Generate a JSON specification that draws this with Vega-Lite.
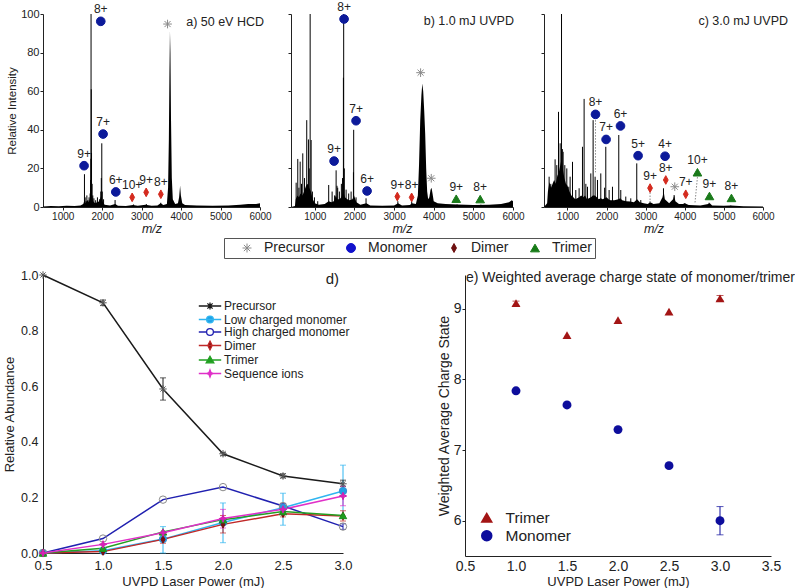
{
"$schema": "https://vega.github.io/schema/vega-lite/v6.json",
"padding": {"left": 3, "top": 1, "right": 0, "bottom": 0},
"background": "white",
"config": {
 "font": "Liberation Sans",
 "view": {"stroke": null},
 "axis": {"grid": false, "domainColor": "#222", "tickColor": "#222", "labelColor": "#222", "titleColor": "#222", "titleFontWeight": "normal", "labelFlush": false, "labelOverlap": false},
 "legend": {"labelColor": "#222"},
 "title": {"fontWeight": "normal", "color": "#222", "frame": "group"}
},
"datasets": {
 "envA": [{"mz":500,"i":0.3},{"mz":700,"i":0.5},{"mz":900,"i":0.4},{"mz":1100,"i":0.6},{"mz":1300,"i":0.5},{"mz":1450,"i":0.8},{"mz":1520,"i":1.5},{"mz":1545,"i":3},{"mz":1580,"i":2},{"mz":1620,"i":3.5},{"mz":1660,"i":2.5},{"mz":1700,"i":5},{"mz":1740,"i":6},{"mz":1770,"i":3},{"mz":1820,"i":2},{"mz":1870,"i":2.5},{"mz":1930,"i":3},{"mz":1975,"i":6},{"mz":2010,"i":3},{"mz":2060,"i":1.2},{"mz":2200,"i":0.8},{"mz":2330,"i":1.5},{"mz":2400,"i":0.6},{"mz":2600,"i":0.5},{"mz":2780,"i":1},{"mz":2900,"i":0.6},{"mz":3100,"i":1.2},{"mz":3250,"i":0.6},{"mz":3400,"i":0.8},{"mz":3480,"i":2},{"mz":3550,"i":1},{"mz":3640,"i":1.5},{"mz":3670,"i":10},{"mz":3690,"i":35},{"mz":3705,"i":70},{"mz":3718,"i":91},{"mz":3730,"i":80},{"mz":3745,"i":45},{"mz":3765,"i":15},{"mz":3790,"i":4},{"mz":3850,"i":1.5},{"mz":3920,"i":2},{"mz":3950,"i":5},{"mz":3975,"i":11},{"mz":3995,"i":6},{"mz":4030,"i":2},{"mz":4100,"i":1},{"mz":4400,"i":0.8},{"mz":4800,"i":0.7},{"mz":5200,"i":0.8},{"mz":5500,"i":1.2},{"mz":5700,"i":1.6},{"mz":5900,"i":1.5},{"mz":6000,"i":2}],
 "pkA": [{"mz":1551,"i":17},{"mz":1568,"i":5},{"mz":1590,"i":3},{"mz":1612,"i":6},{"mz":1640,"i":3.5},{"mz":1668,"i":5},{"mz":1695,"i":7},{"mz":1706,"i":14},{"mz":1714,"i":25},{"mz":1718,"i":100},{"mz":1723,"i":61},{"mz":1730,"i":28},{"mz":1745,"i":12},{"mz":1762,"i":6},{"mz":1790,"i":4.5},{"mz":1835,"i":3.5},{"mz":1880,"i":5},{"mz":1935,"i":4},{"mz":1965,"i":8},{"mz":1978,"i":15},{"mz":1990,"i":33},{"mz":2002,"i":8},{"mz":2035,"i":4},{"mz":2327,"i":3.6},{"mz":2795,"i":1.3},{"mz":3120,"i":1.5},{"mz":3485,"i":2.2}],
 "envB": [{"mz":400,"i":0},{"mz":500,"i":0.5},{"mz":520,"i":4},{"mz":560,"i":6},{"mz":600,"i":5},{"mz":640,"i":7},{"mz":690,"i":6},{"mz":730,"i":8},{"mz":780,"i":11},{"mz":820,"i":12},{"mz":860,"i":10},{"mz":900,"i":8},{"mz":950,"i":4},{"mz":1000,"i":2},{"mz":1100,"i":1.2},{"mz":1250,"i":1.5},{"mz":1350,"i":3},{"mz":1420,"i":2.5},{"mz":1480,"i":3},{"mz":1530,"i":6},{"mz":1570,"i":4},{"mz":1620,"i":4},{"mz":1670,"i":5},{"mz":1720,"i":8},{"mz":1760,"i":5},{"mz":1820,"i":4},{"mz":1880,"i":3.5},{"mz":1950,"i":4},{"mz":1990,"i":6},{"mz":2050,"i":2.5},{"mz":2150,"i":1.2},{"mz":2300,"i":2},{"mz":2400,"i":0.8},{"mz":2700,"i":0.6},{"mz":3000,"i":0.8},{"mz":3100,"i":2},{"mz":3200,"i":0.8},{"mz":3400,"i":1},{"mz":3450,"i":2},{"mz":3550,"i":1.5},{"mz":3600,"i":6},{"mz":3630,"i":22},{"mz":3660,"i":45},{"mz":3690,"i":58},{"mz":3712,"i":64},{"mz":3735,"i":60},{"mz":3760,"i":50},{"mz":3785,"i":38},{"mz":3810,"i":20},{"mz":3835,"i":8},{"mz":3860,"i":4},{"mz":3890,"i":5},{"mz":3920,"i":9},{"mz":3945,"i":10},{"mz":3970,"i":7},{"mz":4000,"i":3},{"mz":4100,"i":2},{"mz":4300,"i":1.5},{"mz":4600,"i":1.3},{"mz":5000,"i":1},{"mz":5400,"i":1.2},{"mz":5700,"i":1.6},{"mz":5900,"i":2.5},{"mz":5970,"i":3.5},{"mz":6000,"i":3}],
 "pkB": [{"mz":530,"i":12.6},{"mz":571,"i":24.9},{"mz":600,"i":10},{"mz":631,"i":23.5},{"mz":665,"i":12},{"mz":697,"i":27.8},{"mz":740,"i":15},{"mz":797,"i":45},{"mz":840,"i":35},{"mz":860,"i":20},{"mz":883,"i":100},{"mz":908,"i":34.7},{"mz":940,"i":8},{"mz":991,"i":5},{"mz":1074,"i":3},{"mz":1351,"i":11.4},{"mz":1437,"i":8},{"mz":1500,"i":6},{"mz":1538,"i":19},{"mz":1560,"i":11},{"mz":1578,"i":10},{"mz":1621,"i":8},{"mz":1671,"i":12},{"mz":1700,"i":15},{"mz":1722,"i":67},{"mz":1729,"i":100},{"mz":1745,"i":20},{"mz":1790,"i":9},{"mz":1855,"i":7},{"mz":1916,"i":8},{"mz":1975,"i":18},{"mz":1981,"i":40},{"mz":2041,"i":5},{"mz":2293,"i":4.5},{"mz":3095,"i":3},{"mz":3445,"i":3},{"mz":4590,"i":1.3},{"mz":5190,"i":1.2}],
 "envC": [{"mz":400,"i":0},{"mz":480,"i":2},{"mz":500,"i":8},{"mz":540,"i":13},{"mz":580,"i":10},{"mz":620,"i":12},{"mz":660,"i":14},{"mz":700,"i":12},{"mz":740,"i":16},{"mz":780,"i":18},{"mz":820,"i":22},{"mz":850,"i":25},{"mz":880,"i":20},{"mz":920,"i":15},{"mz":960,"i":12},{"mz":1000,"i":11},{"mz":1050,"i":8},{"mz":1100,"i":6},{"mz":1150,"i":5},{"mz":1200,"i":4},{"mz":1250,"i":4.5},{"mz":1300,"i":5},{"mz":1350,"i":6},{"mz":1400,"i":5},{"mz":1450,"i":6},{"mz":1500,"i":4},{"mz":1550,"i":4.5},{"mz":1600,"i":5},{"mz":1650,"i":6},{"mz":1700,"i":6},{"mz":1750,"i":5},{"mz":1800,"i":4},{"mz":1850,"i":4.5},{"mz":1900,"i":4},{"mz":1950,"i":4.5},{"mz":2000,"i":5},{"mz":2050,"i":4},{"mz":2100,"i":3.5},{"mz":2200,"i":3.5},{"mz":2300,"i":4},{"mz":2350,"i":4.5},{"mz":2400,"i":3.5},{"mz":2500,"i":3},{"mz":2600,"i":2.8},{"mz":2700,"i":2.5},{"mz":2780,"i":4},{"mz":2850,"i":2.5},{"mz":2950,"i":2},{"mz":3050,"i":1.5},{"mz":3120,"i":2.5},{"mz":3200,"i":1.5},{"mz":3350,"i":2},{"mz":3430,"i":5},{"mz":3460,"i":8},{"mz":3490,"i":4},{"mz":3600,"i":2},{"mz":3700,"i":4},{"mz":3730,"i":6},{"mz":3760,"i":3},{"mz":3850,"i":1.5},{"mz":3950,"i":1.5},{"mz":4000,"i":2},{"mz":4100,"i":1},{"mz":4400,"i":0.8},{"mz":4600,"i":1.5},{"mz":4640,"i":2},{"mz":4700,"i":0.8},{"mz":5000,"i":0.6},{"mz":5180,"i":0.8},{"mz":5500,"i":0.4},{"mz":6000,"i":0.3}],
 "pkC": [{"mz":531,"i":15.7},{"mz":574,"i":12},{"mz":633,"i":11},{"mz":684,"i":24.7},{"mz":727,"i":21.7},{"mz":771,"i":49.3},{"mz":813,"i":33},{"mz":848,"i":100},{"mz":870,"i":30},{"mz":889,"i":28.6},{"mz":932,"i":21.7},{"mz":983,"i":20},{"mz":1034,"i":10.5},{"mz":1068,"i":15.7},{"mz":1129,"i":23.4},{"mz":1213,"i":8.8},{"mz":1298,"i":9.7},{"mz":1384,"i":31.2},{"mz":1426,"i":56},{"mz":1470,"i":12},{"mz":1512,"i":10.5},{"mz":1597,"i":17.4},{"mz":1656,"i":45},{"mz":1707,"i":15.7},{"mz":1768,"i":14},{"mz":1852,"i":17.4},{"mz":1950,"i":10},{"mz":1980,"i":31.2},{"mz":2065,"i":8.8},{"mz":2151,"i":10.5},{"mz":2312,"i":37.3},{"mz":2363,"i":8.8},{"mz":2491,"i":5.4},{"mz":2619,"i":4.5},{"mz":2772,"i":22.6},{"mz":2875,"i":3.6},{"mz":3112,"i":2.8},{"mz":3455,"i":9.7},{"mz":3727,"i":6.2},{"mz":4000,"i":1.9},{"mz":4621,"i":2.2},{"mz":5175,"i":0.7}],
 "dotC": [{"mz":1717,"i":45,"mz2":1717,"i2":18},{"mz":3112,"i":7.5,"mz2":3112,"i2":2},{"mz":4324,"i":15.5,"mz2":4260,"i2":2}],
 "mk": [
  {"p":"a","mz":1541,"i":21.4,"t":"Monomer","l":"9+"},{"p":"a","mz":1964,"i":96.2,"t":"Monomer","l":"8+"},{"p":"a","mz":2023,"i":37.8,"t":"Monomer","l":"7+"},{"p":"a","mz":2345,"i":7.8,"t":"Monomer","l":"6+"},{"p":"a","mz":2760,"i":5.0,"t":"Dimer","l":"10+"},{"p":"a","mz":3115,"i":7.6,"t":"Dimer","l":"9+"},{"p":"a","mz":3487,"i":6.6,"t":"Dimer","l":"8+"},{"p":"a","mz":3657,"i":94.8,"t":"Precursor","l":""},
  {"p":"b","mz":1487,"i":23.8,"t":"Monomer","l":"9+"},{"p":"b","mz":1739,"i":97.4,"t":"Monomer","l":"8+"},{"p":"b","mz":2041,"i":44.7,"t":"Monomer","l":"7+"},{"p":"b","mz":2319,"i":8.3,"t":"Monomer","l":"6+"},{"p":"b","mz":3082,"i":5.4,"t":"Dimer","l":"9+"},{"p":"b","mz":3443,"i":5.0,"t":"Dimer","l":"8+"},{"p":"b","mz":3669,"i":69.6,"t":"Precursor","l":""},{"p":"b","mz":3938,"i":14.9,"t":"Precursor","l":""},{"p":"b","mz":4568,"i":4.3,"t":"Trimer","l":"9+"},{"p":"b","mz":5172,"i":4.1,"t":"Trimer","l":"8+"},
  {"p":"c","mz":1717,"i":48,"t":"Monomer","l":"8+"},{"p":"c","mz":1988,"i":35,"t":"Monomer","l":"7+"},{"p":"c","mz":2356,"i":42,"t":"Monomer","l":"6+"},{"p":"c","mz":2806,"i":26.6,"t":"Monomer","l":"5+"},{"p":"c","mz":3496,"i":26.3,"t":"Monomer","l":"4+"},{"p":"c","mz":3112,"i":9.8,"t":"Dimer","l":"9+"},{"p":"c","mz":3514,"i":14,"t":"Dimer","l":"8+"},{"p":"c","mz":3744,"i":10.5,"t":"Precursor","l":""},{"p":"c","mz":4025,"i":6.6,"t":"Dimer","l":"7+"},{"p":"c","mz":4324,"i":18,"t":"Trimer","l":"10+"},{"p":"c","mz":4631,"i":5.7,"t":"Trimer","l":"9+"},{"p":"c","mz":5193,"i":4.7,"t":"Trimer","l":"8+"}
 ],
 "dData": [
  {"series":"Precursor","power":0.5,"value":1.0},{"series":"Precursor","power":1.0,"value":0.9},{"series":"Precursor","power":1.5,"value":0.59},{"series":"Precursor","power":2.0,"value":0.357},{"series":"Precursor","power":2.5,"value":0.277},{"series":"Precursor","power":3.0,"value":0.249},
  {"series":"Low charged monomer","power":0.5,"value":0.0},{"series":"Low charged monomer","power":1.0,"value":0.008},{"series":"Low charged monomer","power":1.5,"value":0.05},{"series":"Low charged monomer","power":2.0,"value":0.11},{"series":"Low charged monomer","power":2.5,"value":0.163},{"series":"Low charged monomer","power":3.0,"value":0.223},
  {"series":"High charged monomer","power":0.5,"value":0.0},{"series":"High charged monomer","power":1.0,"value":0.052},{"series":"High charged monomer","power":1.5,"value":0.192},{"series":"High charged monomer","power":2.0,"value":0.237},{"series":"High charged monomer","power":2.5,"value":0.169},{"series":"High charged monomer","power":3.0,"value":0.095},
  {"series":"Dimer","power":0.5,"value":0.0},{"series":"Dimer","power":1.0,"value":0.005},{"series":"Dimer","power":1.5,"value":0.049},{"series":"Dimer","power":2.0,"value":0.103},{"series":"Dimer","power":2.5,"value":0.141},{"series":"Dimer","power":3.0,"value":0.133},
  {"series":"Trimer","power":0.5,"value":0.0},{"series":"Trimer","power":1.0,"value":0.017},{"series":"Trimer","power":1.5,"value":0.076},{"series":"Trimer","power":2.0,"value":0.12},{"series":"Trimer","power":2.5,"value":0.149},{"series":"Trimer","power":3.0,"value":0.135},
  {"series":"Sequence ions","power":0.5,"value":0.0},{"series":"Sequence ions","power":1.0,"value":0.031},{"series":"Sequence ions","power":1.5,"value":0.073},{"series":"Sequence ions","power":2.0,"value":0.124},{"series":"Sequence ions","power":2.5,"value":0.157},{"series":"Sequence ions","power":3.0,"value":0.205}
 ],
 "dErr": [
  {"series":"Precursor","power":1.0,"lo":0.89,"hi":0.91},{"series":"Precursor","power":1.5,"lo":0.55,"hi":0.63},{"series":"Precursor","power":2.0,"lo":0.35,"hi":0.362},{"series":"Precursor","power":2.5,"lo":0.27,"hi":0.285},{"series":"Precursor","power":3.0,"lo":0.24,"hi":0.262},
  {"series":"Low charged monomer","power":1.5,"lo":0.0,"hi":0.095},{"series":"Low charged monomer","power":2.0,"lo":0.037,"hi":0.18},{"series":"Low charged monomer","power":2.5,"lo":0.1,"hi":0.215},{"series":"Low charged monomer","power":3.0,"lo":0.127,"hi":0.316},
  {"series":"High charged monomer","power":2.5,"lo":0.16,"hi":0.178},{"series":"High charged monomer","power":3.0,"lo":0.085,"hi":0.105},
  {"series":"Dimer","power":1.5,"lo":0.035,"hi":0.065},{"series":"Dimer","power":2.0,"lo":0.072,"hi":0.135},{"series":"Dimer","power":2.5,"lo":0.13,"hi":0.152},{"series":"Dimer","power":3.0,"lo":0.115,"hi":0.152},
  {"series":"Trimer","power":2.5,"lo":0.14,"hi":0.158},
  {"series":"Sequence ions","power":2.0,"lo":0.09,"hi":0.157},{"series":"Sequence ions","power":2.5,"lo":0.14,"hi":0.172},{"series":"Sequence ions","power":3.0,"lo":0.17,"hi":0.24}
 ],
 "eData": [
  {"series":"Trimer","power":1.0,"value":9.08},{"series":"Trimer","power":1.5,"value":8.63},{"series":"Trimer","power":2.0,"value":8.84},{"series":"Trimer","power":2.5,"value":8.96},{"series":"Trimer","power":3.0,"value":9.15},
  {"series":"Monomer","power":1.0,"value":7.84},{"series":"Monomer","power":1.5,"value":7.64},{"series":"Monomer","power":2.0,"value":7.29},{"series":"Monomer","power":2.5,"value":6.78},{"series":"Monomer","power":3.0,"value":6.0}
 ],
 "eErr": [
  {"series":"Monomer","power":3.0,"lo":5.8,"hi":6.2},{"series":"Trimer","power":1.0,"lo":9.05,"hi":9.11},{"series":"Trimer","power":3.0,"lo":9.12,"hi":9.19}
 ]
},
"spacing": 10,
"resolve": {"scale": {"color": "independent", "fill": "independent", "stroke": "independent", "shape": "independent"}},
"vconcat": [
 {
 "hconcat": [
 {
  "width": 217, "height": 193,
  "title": {"text": "a) 50 eV HCD", "anchor": "end", "dx": 4, "offset": -31, "baseline": "middle", "fontSize": 12.5},
  "encoding": {
   "x": {"field": "mz", "type": "quantitative", "scale": {"domain": [500, 6000], "nice": false, "zero": false},
     "axis": {"values": [1000,2000,3000,4000,5000,6000], "format": "d", "tickSize": 3, "labelFontSize": 10, "labelPadding": 1, "labelOverlap": false, "title": "m/z", "titleFontStyle": "italic", "titleFontSize": 12.5, "titlePadding": 1}},
   "y": {"field": "i", "type": "quantitative", "scale": {"domain": [0, 100], "nice": false},
     "axis": {"values": [0,20,40,60,80,100], "tickSize": 3, "labelFontSize": 11, "labelPadding": 1, "labelOverlap": false, "labelSeparation": 0, "title": "Relative Intensity", "titleFontSize": 11.5, "titlePadding": 3}}
  },
  "layer": [
   {"data": {"name": "envA"}, "mark": {"type": "area", "color": "#000"}},
   {"data": {"name": "pkA"}, "mark": {"type": "rule", "color": "#000", "strokeWidth": 1}, "encoding": {"y2": {"datum": 0}}},
   {"data": {"name": "mk"}, "transform": [{"filter": "datum.p === 'a'"}],
    "mark": {"type": "point", "filled": true, "strokeWidth": 1, "size": 75, "opacity": 1},
    "encoding": {
     "fill": {"field": "t", "type": "nominal", "legend": null, "scale": {"domain": ["Precursor","Monomer","Dimer","Trimer"], "range": ["#999999","#0c1a9a","#d42a1e","#1a7a1a"]}},
     "stroke": {"field": "t", "type": "nominal", "legend": null, "scale": {"domain": ["Precursor","Monomer","Dimer","Trimer"], "range": ["#8a8a8a","#0c1a9a","#d42a1e","#1a7a1a"]}},
     "shape": {"field": "t", "type": "nominal", "legend": null, "scale": {"domain": ["Precursor","Monomer","Dimer","Trimer"], "range": ["M-1,0L1,0M0,-1L0,1M-0.7,-0.7L0.7,0.7M-0.7,0.7L0.7,-0.7","circle","M0,-1L0.55,0L0,1L-0.55,0Z","triangle-up"]}}}},
   {"data": {"name": "mk"}, "transform": [{"filter": "datum.p === 'a' && datum.l !== ''"}],
    "mark": {"type": "text", "dy": -12, "fontSize": 12, "color": "#222"},
    "encoding": {"text": {"field": "l"}}}
  ]
 },
 {
  "width": 222, "height": 193,
  "title": {"text": "b) 1.0 mJ UVPD", "anchor": "end", "dx": 1, "offset": -32, "baseline": "middle", "fontSize": 12.5},
  "resolve": {"scale": {"fill": "independent", "stroke": "independent", "shape": "independent"}},
  "encoding": {
   "x": {"field": "mz", "type": "quantitative", "scale": {"domain": [400, 6000], "nice": false, "zero": false},
     "axis": {"values": [1000,2000,3000,4000,5000,6000], "format": "d", "tickSize": 3, "labelFontSize": 10, "labelPadding": 1, "labelOverlap": false, "title": "m/z", "titleFontStyle": "italic", "titleFontSize": 12.5, "titlePadding": 1}},
   "y": {"field": "i", "type": "quantitative", "scale": {"domain": [0, 100], "nice": false},
     "axis": {"values": [0,20,40,60,80,100], "tickSize": 3, "labels": false, "title": null}}
  },
  "layer": [
   {"data": {"name": "envB"}, "mark": {"type": "area", "color": "#000"}},
   {"data": {"name": "pkB"}, "mark": {"type": "rule", "color": "#000", "strokeWidth": 1}, "encoding": {"y2": {"datum": 0}}},
   {"data": {"name": "mk"}, "transform": [{"filter": "datum.p === 'b'"}],
    "mark": {"type": "point", "filled": true, "strokeWidth": 1, "size": 75, "opacity": 1},
    "encoding": {
     "fill": {"field": "t", "type": "nominal", "legend": null, "scale": {"domain": ["Precursor","Monomer","Dimer","Trimer"], "range": ["#999999","#0c1a9a","#d42a1e","#1a7a1a"]}},
     "stroke": {"field": "t", "type": "nominal", "legend": null, "scale": {"domain": ["Precursor","Monomer","Dimer","Trimer"], "range": ["#8a8a8a","#0c1a9a","#d42a1e","#1a7a1a"]}},
     "shape": {"field": "t", "type": "nominal", "legend": null, "scale": {"domain": ["Precursor","Monomer","Dimer","Trimer"], "range": ["M-1,0L1,0M0,-1L0,1M-0.7,-0.7L0.7,0.7M-0.7,0.7L0.7,-0.7","circle","M0,-1L0.55,0L0,1L-0.55,0Z","triangle-up"]}}}},
   {"data": {"name": "mk"}, "transform": [{"filter": "false"}],
    "mark": {"type": "point", "filled": true, "strokeWidth": 1, "size": 75, "opacity": 1},
    "encoding": {
     "fill": {"field": "t", "type": "nominal", "scale": {"domain": ["Precursor","Monomer","Dimer","Trimer"], "range": ["transparent","#1212cc","#6e1010","#167a16"]},
       "legend": {"orient": "none", "legendX": -67, "legendY": 224, "direction": "horizontal", "title": null, "padding": 3, "strokeColor": "#555", "symbolOffset": 13, "columnPadding": 6, "labelFontSize": 14, "labelOffset": 10, "symbolSize": 80, "symbolStrokeWidth": 1}},
     "stroke": {"field": "t", "type": "nominal", "scale": {"domain": ["Precursor","Monomer","Dimer","Trimer"], "range": ["#8a8a8a","#1212cc","#6e1010","#167a16"]}},
     "shape": {"field": "t", "type": "nominal", "scale": {"domain": ["Precursor","Monomer","Dimer","Trimer"], "range": ["M-1,0L1,0M0,-1L0,1M-0.7,-0.7L0.7,0.7M-0.7,0.7L0.7,-0.7","circle","M0,-1L0.55,0L0,1L-0.55,0Z","triangle-up"]}}}},
   {"data": {"name": "mk"}, "transform": [{"filter": "datum.p === 'b' && datum.l !== ''"}],
    "mark": {"type": "text", "dy": -12, "fontSize": 12, "color": "#222"},
    "encoding": {"text": {"field": "l"}}}
  ]
 },
 {
  "width": 219, "height": 193,
  "title": {"text": "c) 3.0 mJ UVPD", "anchor": "end", "dx": 25, "offset": -20, "baseline": "middle", "fontSize": 12.5},
  "encoding": {
   "x": {"field": "mz", "type": "quantitative", "scale": {"domain": [400, 6000], "nice": false, "zero": false},
     "axis": {"values": [1000,2000,3000,4000,5000,6000], "format": "d", "tickSize": 3, "labelFontSize": 10, "labelPadding": 1, "labelOverlap": false, "title": "m/z", "titleFontStyle": "italic", "titleFontSize": 12.5, "titlePadding": 1}},
   "y": {"field": "i", "type": "quantitative", "scale": {"domain": [0, 100], "nice": false},
     "axis": {"values": [0,20,40,60,80,100], "tickSize": 3, "labels": false, "title": null}}
  },
  "layer": [
   {"data": {"name": "envC"}, "mark": {"type": "area", "color": "#000"}},
   {"data": {"name": "pkC"}, "mark": {"type": "rule", "color": "#000", "strokeWidth": 1}, "encoding": {"y2": {"datum": 0}}},
   {"data": {"name": "dotC"}, "mark": {"type": "rule", "color": "#8a8a8a", "strokeWidth": 1, "strokeDash": [1.5, 1.5]}, "encoding": {"x2": {"field": "mz2"}, "y2": {"field": "i2"}}},
   {"data": {"name": "mk"}, "transform": [{"filter": "datum.p === 'c'"}],
    "mark": {"type": "point", "filled": true, "strokeWidth": 1, "size": 75, "opacity": 1},
    "encoding": {
     "fill": {"field": "t", "type": "nominal", "legend": null, "scale": {"domain": ["Precursor","Monomer","Dimer","Trimer"], "range": ["#999999","#0c1a9a","#d42a1e","#1a7a1a"]}},
     "stroke": {"field": "t", "type": "nominal", "legend": null, "scale": {"domain": ["Precursor","Monomer","Dimer","Trimer"], "range": ["#8a8a8a","#0c1a9a","#d42a1e","#1a7a1a"]}},
     "shape": {"field": "t", "type": "nominal", "legend": null, "scale": {"domain": ["Precursor","Monomer","Dimer","Trimer"], "range": ["M-1,0L1,0M0,-1L0,1M-0.7,-0.7L0.7,0.7M-0.7,0.7L0.7,-0.7","circle","M0,-1L0.55,0L0,1L-0.55,0Z","triangle-up"]}}}},
   {"data": {"name": "mk"}, "transform": [{"filter": "datum.p === 'c' && datum.l !== ''"}],
    "mark": {"type": "text", "dy": -12, "fontSize": 12, "color": "#222"},
    "encoding": {"text": {"field": "l"}}}
  ]
 }
 ],
 "spacing": 31,
 "bounds": "flush",
 "resolve": {"scale": {"color": "independent", "fill": "independent", "stroke": "independent", "shape": "independent"}}
 },
 {
 "hconcat": [
 {
  "width": 300, "height": 278,
  "title": {"text": "d)", "anchor": "end", "dx": -4, "offset": -25, "baseline": "middle", "fontSize": 15},
  "resolve": {"scale": {"fill": "independent", "stroke": "independent", "shape": "independent"}},
  "layer": [
   {"data": {"name": "dData"}, "mark": {"type": "line", "strokeWidth": 1.5},
    "encoding": {
     "x": {"field": "power", "type": "quantitative", "scale": {"domain": [0.5, 3.0], "nice": false, "zero": false},
       "axis": {"values": [0.5,1,1.5,2,2.5,3], "format": ".1f", "ticks": false, "labelFontSize": 13, "labelPadding": 6, "labelOverlap": false, "title": "UVPD Laser Power (mJ)", "titleFontSize": 13, "titlePadding": 3}},
     "y": {"field": "value", "type": "quantitative", "scale": {"domain": [0, 1], "nice": false},
       "axis": {"values": [0,0.2,0.4,0.6,0.8,1.0], "format": ".1f", "ticks": false, "labelFontSize": 12.5, "labelPadding": 5, "labelOverlap": false, "title": "Relative Abundance", "titleFontSize": 13, "titlePadding": 4}},
     "color": {"field": "series", "type": "nominal", "legend": null,
       "scale": {"domain": ["Precursor","Low charged monomer","High charged monomer","Dimer","Trimer","Sequence ions"], "range": ["#1a1a1a","#2fb5f0","#2020b0","#c02828","#22a022","#e030c8"]}}}},
   {"data": {"name": "dErr"}, "mark": {"type": "rule", "strokeWidth": 1},
    "encoding": {"x": {"field": "power", "type": "quantitative"}, "y": {"field": "lo", "type": "quantitative"}, "y2": {"field": "hi"}, "color": {"field": "series", "type": "nominal", "legend": null}}},
   {"data": {"name": "dErr"}, "mark": {"type": "tick", "orient": "horizontal", "size": 6, "thickness": 1},
    "encoding": {"x": {"field": "power", "type": "quantitative"}, "y": {"field": "lo", "type": "quantitative"}, "color": {"field": "series", "type": "nominal", "legend": null}}},
   {"data": {"name": "dErr"}, "mark": {"type": "tick", "orient": "horizontal", "size": 6, "thickness": 1},
    "encoding": {"x": {"field": "power", "type": "quantitative"}, "y": {"field": "hi", "type": "quantitative"}, "color": {"field": "series", "type": "nominal", "legend": null}}},
   {"data": {"name": "dData"}, "mark": {"type": "point", "filled": true, "strokeWidth": 1, "size": 55, "opacity": 1},
    "encoding": {"x": {"field": "power", "type": "quantitative"}, "y": {"field": "value", "type": "quantitative"},
     "fill": {"field": "series", "type": "nominal", "legend": null, "scale": {"domain": ["Precursor","Low charged monomer","High charged monomer","Dimer","Trimer","Sequence ions"], "range": ["#777777","#1f9fe6","transparent","#7a0e0e","#1e9e1e","#d820b8"]}},
     "stroke": {"field": "series", "type": "nominal", "legend": null, "scale": {"domain": ["Precursor","Low charged monomer","High charged monomer","Dimer","Trimer","Sequence ions"], "range": ["#555555","#3a8fd0","#8a8a8a","#7a1010","#1e8e1e","#d020b0"]}},
     "shape": {"field": "series", "type": "nominal", "legend": null, "scale": {"domain": ["Precursor","Low charged monomer","High charged monomer","Dimer","Trimer","Sequence ions"], "range": ["M-1,0L1,0M0,-1L0,1M-0.7,-0.7L0.7,0.7M-0.7,0.7L0.7,-0.7","circle","circle","M0,-1L0.55,0L0,1L-0.55,0Z","triangle-up","M0,-1L0.3,-0.3L1,0L0.3,0.3L0,1L-0.3,0.3L-1,0L-0.3,-0.3Z"]}}}},
   {"data": {"name": "dData"}, "transform": [{"filter": "false"}],
    "mark": {"type": "point", "filled": true, "strokeWidth": 1.3, "opacity": 1},
    "encoding": {"x": {"field": "power", "type": "quantitative"}, "y": {"field": "value", "type": "quantitative"},
     "fill": {"field": "series", "type": "nominal", "scale": {"domain": ["Precursor","Low charged monomer","High charged monomer","Dimer","Trimer","Sequence ions"], "range": ["transparent","#1f9fe6","transparent","#7a0e0e","#1e9e1e","#d820b8"]},
       "legend": {"orient": "none", "legendX": 161, "legendY": 25, "title": null, "padding": 0, "symbolSize": 64, "symbolStrokeWidth": 1.3, "labelFontSize": 12, "labelOffset": 8, "rowPadding": 0.5}},
     "stroke": {"field": "series", "type": "nominal", "scale": {"domain": ["Precursor","Low charged monomer","High charged monomer","Dimer","Trimer","Sequence ions"], "range": ["#1a1a1a","#2fb5f0","#2020b0","#c02828","#22a022","#e030c8"]}},
     "shape": {"field": "series", "type": "nominal", "scale": {"domain": ["Precursor","Low charged monomer","High charged monomer","Dimer","Trimer","Sequence ions"], "range": ["M-2.8,0L2.8,0M0,-0.9L0,0.9M-0.65,-0.65L0.65,0.65M-0.65,0.65L0.65,-0.65","M-2.8,0L2.8,0M0.85,0A0.85,0.85,0,1,1,-0.85,0A0.85,0.85,0,1,1,0.85,0Z","M-2.8,0L-0.85,0M0.85,0L2.8,0M0.85,0A0.85,0.85,0,1,1,-0.85,0A0.85,0.85,0,1,1,0.85,0Z","M-2.8,0L2.8,0M0,-1.1L0.55,0L0,1.1L-0.55,0Z","M-2.8,0L2.8,0M0,-0.95L0.95,0.7L-0.95,0.7Z","M-2.8,0L2.8,0M0,-0.9L0.25,-0.25L0.9,0L0.25,0.25L0,0.9L-0.25,0.25L-0.9,0L-0.25,-0.25Z"]}}}}
  ]
 },
 {
  "width": 306, "height": 281,
  "title": {"text": "e) Weighted average charge state of monomer/trimer", "anchor": "start", "dx": 1, "offset": -17, "baseline": "middle", "fontSize": 14},
  "layer": [
   {"data": {"name": "eData"}, "mark": {"type": "point", "filled": true, "size": 80, "opacity": 1},
    "encoding": {
     "x": {"field": "power", "type": "quantitative", "scale": {"domain": [0.5, 3.5], "nice": false, "zero": false},
       "axis": {"values": [0.5,1,1.5,2,2.5,3,3.5], "format": ".1f", "ticks": false, "labelFontSize": 14, "labelPadding": 3, "labelOverlap": false, "title": "UVPD Laser Power (mJ)", "titleFontSize": 13, "titlePadding": 2}},
     "y": {"field": "value", "type": "quantitative", "scale": {"domain": [5.5, 9.48], "nice": false, "zero": false},
       "axis": {"values": [6,7,8,9], "format": "d", "tickSize": 3, "labelFontSize": 14, "labelPadding": 1, "labelOverlap": false, "title": "Weighted Average Charge State", "titleFontSize": 14, "titlePadding": 2}},
     "color": {"field": "series", "type": "nominal", "scale": {"domain": ["Trimer","Monomer"], "range": ["#a31515","#0d0d9c"]},
       "legend": {"orient": "none", "legendX": 14, "legendY": 235, "title": null, "padding": 0, "symbolSize": 100, "labelFontSize": 15.5, "labelOffset": 11, "rowPadding": 0}},
     "shape": {"field": "series", "type": "nominal", "scale": {"domain": ["Trimer","Monomer"], "range": ["triangle-up","circle"]}}}},
   {"data": {"name": "eErr"}, "mark": {"type": "rule", "strokeWidth": 1},
    "encoding": {"x": {"field": "power", "type": "quantitative"}, "y": {"field": "lo", "type": "quantitative"}, "y2": {"field": "hi"}, "color": {"field": "series", "type": "nominal"}}},
   {"data": {"name": "eErr"}, "mark": {"type": "tick", "orient": "horizontal", "size": 7, "thickness": 1},
    "encoding": {"x": {"field": "power", "type": "quantitative"}, "y": {"field": "lo", "type": "quantitative"}, "color": {"field": "series", "type": "nominal"}}},
   {"data": {"name": "eErr"}, "mark": {"type": "tick", "orient": "horizontal", "size": 7, "thickness": 1},
    "encoding": {"x": {"field": "power", "type": "quantitative"}, "y": {"field": "hi", "type": "quantitative"}, "color": {"field": "series", "type": "nominal"}}}
  ]
 }
 ],
 "spacing": 122,
 "bounds": "flush",
 "resolve": {"scale": {"color": "independent", "fill": "independent", "stroke": "independent", "shape": "independent"}}
 }
]
}
